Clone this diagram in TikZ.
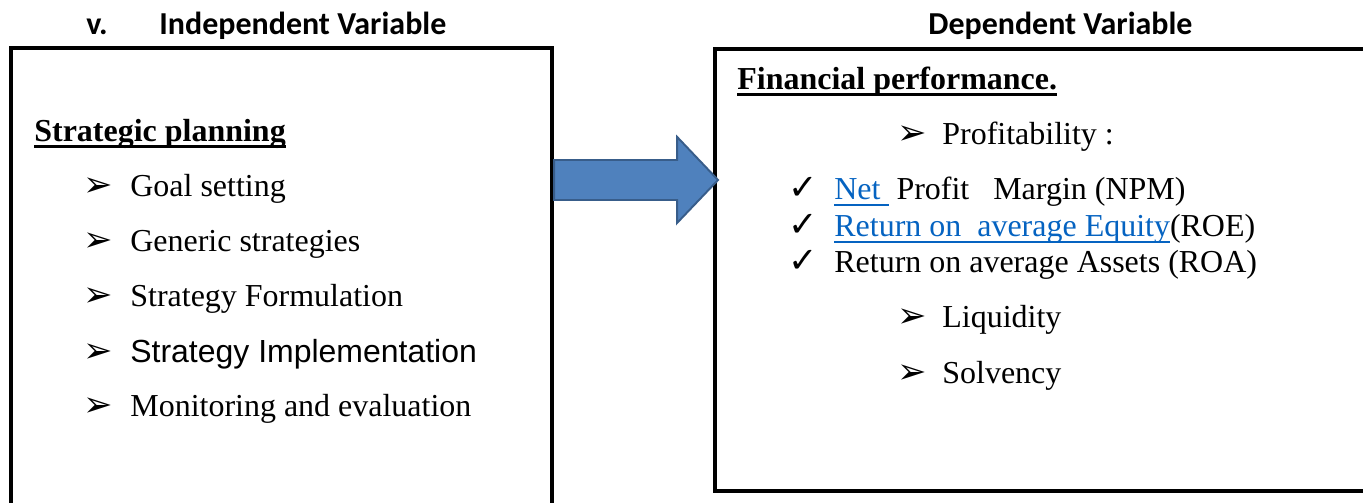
\documentclass[tikz,border=0pt]{standalone}
\usepackage{fontspec}
\setmainfont{Liberation Serif}
\newfontfamily\arialfont{Liberation Sans}
\newfontfamily\calibrifont{Carlito}
\newfontfamily\symfont{DejaVu Sans}
\usetikzlibrary{positioning}
\definecolor{arrowBlue}{HTML}{4F81BD}
\definecolor{arrowEdge}{HTML}{385D8A}
\definecolor{linkBlue}{HTML}{0563C1}
\newcommand\undl[2][1.1pt]{\leavevmode\setbox0\hbox{#2}\rlap{\rule[-3.3pt]{\wd0}{#1}}\box0}
\newcommand\bulchar{{\symfont\fontsize{20}{20}\selectfont ➢}}
\newcommand\tickchar{{\symfont\fontsize{20}{20}\selectfont ✓}}
\tikzset{
  varBox/.style = {draw=black, line width=2.5pt, outer sep=0pt, inner sep=0pt},
  varTitle/.style = {inner sep=0pt, anchor=base west,
    font=\calibrifont\bfseries\fontsize{18.2}{22}\selectfont},
  itemText/.style = {inner sep=0pt, anchor=base west, font=\fontsize{18.2}{22}\selectfont},
  bulletMark/.style = {itemText},
  fatArrow/.style = {fill=arrowBlue, draw=arrowEdge, line width=1.1pt, line join=miter}
    % block arrow between the two boxes
}

\begin{document}
\begin{tikzpicture}[x=0.02cm, y=-0.02cm]
\useasboundingbox (0,0) rectangle (1363,503);
\clip (0,0) rectangle (1363,503);
\node[varTitle] (ttlnum) at (86,35) {v.};
\node[varTitle, base right=1.02cm of ttlnum] (ttlindep) {Independent Variable};
\node[varTitle] (ttldep) at (928,35) {Dependent Variable};

\node[varBox, minimum width=10.82cm, minimum height=10.24cm] (indep) at (281.5,304) {};
\node[varBox, minimum width=13.7cm, minimum height=8.84cm] (dep) at (1057.5,270) {};

\node[itemText] (strat) at (34,142) {\bfseries\undl[1.6pt]{Strategic planning}};
\foreach \lbl [count=\i] in {Goal setting, Generic strategies, Strategy Formulation,
  {\arialfont Strategy Implementation}, Monitoring and evaluation}{
  \node[bulletMark] (sb\i) at (83,142+55*\i) {\bulchar};
  \node[itemText] (s\i) at (130,142+55*\i) {\lbl};
}

\node[itemText] (fin) at (737,90) {\bfseries\undl[1.6pt]{Financial performance.}};
\node[bulletMark] (pb) at (897,145) {\bulchar};
\node[itemText] (prof) at (942,145) {Profitability :};
\node[bulletMark] (t1) at (788,200) {\tickchar};
\node[itemText] (npm) at (834,200) {\textcolor{linkBlue}{\undl{Net\ }}\ Profit\ \ \ Margin (NPM)};
\node[bulletMark] (t2) at (788,237) {\tickchar};
\node[itemText] (roe) at (834,237) {\textcolor{linkBlue}{\undl{Return on\ \ average Equity}}(ROE)};
\node[bulletMark] (t3) at (788,273) {\tickchar};
\node[itemText] (roa) at (834,273) {Return on average Assets (ROA)};
\node[bulletMark] (lb) at (897,328) {\bulchar};
\node[itemText] (liq) at (942,328) {Liquidity};
\node[bulletMark] (vb) at (897,383) {\bulchar};
\node[itemText] (solv) at (942,383) {Solvency};

\coordinate (tail) at ([xshift=0.045cm]indep.east |- 0,180);
\coordinate (tip) at (dep.west |- 0,180);
\draw[fatArrow] (tail) ++(0,-20) -- ++(123,0) -- ++(0,-23) -- ([xshift=0.06cm]tip)
  -- ++(-41,43) -- ++(0,-23) -- ++(-123,0) -- cycle;
\end{tikzpicture}
\end{document}
